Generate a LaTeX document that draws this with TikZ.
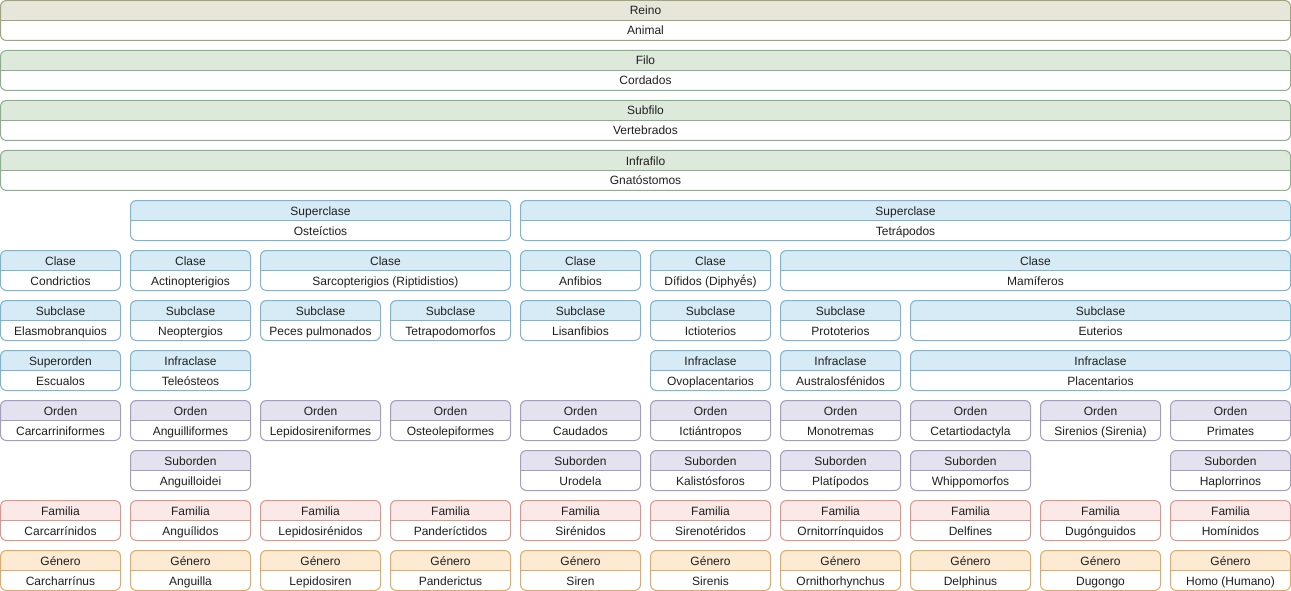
\documentclass[tikz,border=0pt]{standalone}
\usepackage{fontspec}
\setmainfont{Liberation Sans}
\definecolor{olFill}{HTML}{E6E7DA}\definecolor{olLine}{HTML}{A3A37A}
\definecolor{grFill}{HTML}{DDEADB}\definecolor{grLine}{HTML}{8AB08C}
\definecolor{blFill}{HTML}{D6EBF5}\definecolor{blLine}{HTML}{7AB6D2}
\definecolor{puFill}{HTML}{E4E2EE}\definecolor{puLine}{HTML}{A49CC2}
\definecolor{reFill}{HTML}{FBE9E7}\definecolor{reLine}{HTML}{DE958C}
\definecolor{orFill}{HTML}{FCEAD2}\definecolor{orLine}{HTML}{E2AB62}
\tikzset{
  lbl/.style={inner sep=0pt, text height=9.6pt, text depth=0.6pt, font=\fontsize{12}{14}\selectfont, text=black!88},
  frame/.style={line width=1pt, rounded corners=6pt},
}
% #1 name, #2 x1, #3 x2, #4 y, #5 colour prefix, #6 header, #7 body
\newcommand\taxbox[7]{%
  \fill[#5Fill, rounded corners=6pt] (#2+0.5,#4+20.5) [sharp corners] -- (#2+0.5,#4+6) [rounded corners=6pt] -- (#2+0.5,#4+0.5) -- (#3+0.5,#4+0.5) [sharp corners] -- (#3+0.5,#4+20.5) -- cycle;
  \draw[#5Line, frame] (#2+0.5,#4+0.5) rectangle (#3+0.5,#4+40.5);
  \draw[#5Line, line width=1pt] (#2+0.5,#4+20.5) -- (#3+0.5,#4+20.5);
  \node[lbl] (#1h) at ({(#2+#3)/2+0.5},#4+10.5) {#6};
  \node[lbl] (#1b) at ({(#2+#3)/2+0.5},#4+30.5) {#7};
}
\begin{document}
\begin{tikzpicture}[x=1pt,y=-1pt]
\useasboundingbox (0,0) rectangle (1291,591);
% row 0-3
\taxbox{reino}{0}{1290}{0}{ol}{Reino}{Animal}
\taxbox{filo}{0}{1290}{50}{gr}{Filo}{Cordados}
\taxbox{subfilo}{0}{1290}{100}{gr}{Subfilo}{Vertebrados}
\taxbox{infrafilo}{0}{1290}{150}{gr}{Infrafilo}{Gnatóstomos}
% row 4
\taxbox{supA}{130}{510}{200}{bl}{Superclase}{Osteíctios}
\taxbox{supB}{520}{1290}{200}{bl}{Superclase}{Tetrápodos}
% row 5
\taxbox{claA}{0}{120}{250}{bl}{Clase}{Condrictios}
\taxbox{claB}{130}{250}{250}{bl}{Clase}{Actinopterigios}
\taxbox{claC}{260}{510}{250}{bl}{Clase}{Sarcopterigios (Riptidistios)}
\taxbox{claD}{520}{640}{250}{bl}{Clase}{Anfibios}
\taxbox{claE}{650}{770}{250}{bl}{Clase}{Dífidos (Diphyḗs)}
\taxbox{claF}{780}{1290}{250}{bl}{Clase}{Mamíferos}
% row 6
\taxbox{subA}{0}{120}{300}{bl}{Subclase}{Elasmobranquios}
\taxbox{subB}{130}{250}{300}{bl}{Subclase}{Neoptergios}
\taxbox{subC}{260}{380}{300}{bl}{Subclase}{Peces pulmonados}
\taxbox{subD}{390}{510}{300}{bl}{Subclase}{Tetrapodomorfos}
\taxbox{subE}{520}{640}{300}{bl}{Subclase}{Lisanfibios}
\taxbox{subF}{650}{770}{300}{bl}{Subclase}{Ictioterios}
\taxbox{subG}{780}{900}{300}{bl}{Subclase}{Prototerios}
\taxbox{subH}{910}{1290}{300}{bl}{Subclase}{Euterios}
% row 7
\taxbox{infA}{0}{120}{350}{bl}{Superorden}{Escualos}
\taxbox{infB}{130}{250}{350}{bl}{Infraclase}{Teleósteos}
\taxbox{infC}{650}{770}{350}{bl}{Infraclase}{Ovoplacentarios}
\taxbox{infD}{780}{900}{350}{bl}{Infraclase}{Australosfénidos}
\taxbox{infE}{910}{1290}{350}{bl}{Infraclase}{Placentarios}
% row 8
\taxbox{ordA}{0}{120}{400}{pu}{Orden}{Carcarriniformes}
\taxbox{ordB}{130}{250}{400}{pu}{Orden}{Anguilliformes}
\taxbox{ordC}{260}{380}{400}{pu}{Orden}{Lepidosireniformes}
\taxbox{ordD}{390}{510}{400}{pu}{Orden}{Osteolepiformes}
\taxbox{ordE}{520}{640}{400}{pu}{Orden}{Caudados}
\taxbox{ordF}{650}{770}{400}{pu}{Orden}{Ictiántropos}
\taxbox{ordG}{780}{900}{400}{pu}{Orden}{Monotremas}
\taxbox{ordH}{910}{1030}{400}{pu}{Orden}{Cetartiodactyla}
\taxbox{ordI}{1040}{1160}{400}{pu}{Orden}{Sirenios (Sirenia)}
\taxbox{ordJ}{1170}{1290}{400}{pu}{Orden}{Primates}
% row 9
\taxbox{sorA}{130}{250}{450}{pu}{Suborden}{Anguilloidei}
\taxbox{sorB}{520}{640}{450}{pu}{Suborden}{Urodela}
\taxbox{sorC}{650}{770}{450}{pu}{Suborden}{Kalistósforos}
\taxbox{sorD}{780}{900}{450}{pu}{Suborden}{Platípodos}
\taxbox{sorE}{910}{1030}{450}{pu}{Suborden}{Whippomorfos}
\taxbox{sorF}{1170}{1290}{450}{pu}{Suborden}{Haplorrinos}
% row 10
\taxbox{famA}{0}{120}{500}{re}{Familia}{Carcarrínidos}
\taxbox{famB}{130}{250}{500}{re}{Familia}{Anguílidos}
\taxbox{famC}{260}{380}{500}{re}{Familia}{Lepidosirénidos}
\taxbox{famD}{390}{510}{500}{re}{Familia}{Panderíctidos}
\taxbox{famE}{520}{640}{500}{re}{Familia}{Sirénidos}
\taxbox{famF}{650}{770}{500}{re}{Familia}{Sirenotéridos}
\taxbox{famG}{780}{900}{500}{re}{Familia}{Ornitorrínquidos}
\taxbox{famH}{910}{1030}{500}{re}{Familia}{Delfines}
\taxbox{famI}{1040}{1160}{500}{re}{Familia}{Dugónguidos}
\taxbox{famJ}{1170}{1290}{500}{re}{Familia}{Homínidos}
% row 11
\taxbox{genA}{0}{120}{550}{or}{Género}{Carcharrínus}
\taxbox{genB}{130}{250}{550}{or}{Género}{Anguilla}
\taxbox{genC}{260}{380}{550}{or}{Género}{Lepidosiren}
\taxbox{genD}{390}{510}{550}{or}{Género}{Panderictus}
\taxbox{genE}{520}{640}{550}{or}{Género}{Siren}
\taxbox{genF}{650}{770}{550}{or}{Género}{Sirenis}
\taxbox{genG}{780}{900}{550}{or}{Género}{Ornithorhynchus}
\taxbox{genH}{910}{1030}{550}{or}{Género}{Delphinus}
\taxbox{genI}{1040}{1160}{550}{or}{Género}{Dugongo}
\taxbox{genJ}{1170}{1290}{550}{or}{Género}{Homo (Humano)}
\end{tikzpicture}
\end{document}
